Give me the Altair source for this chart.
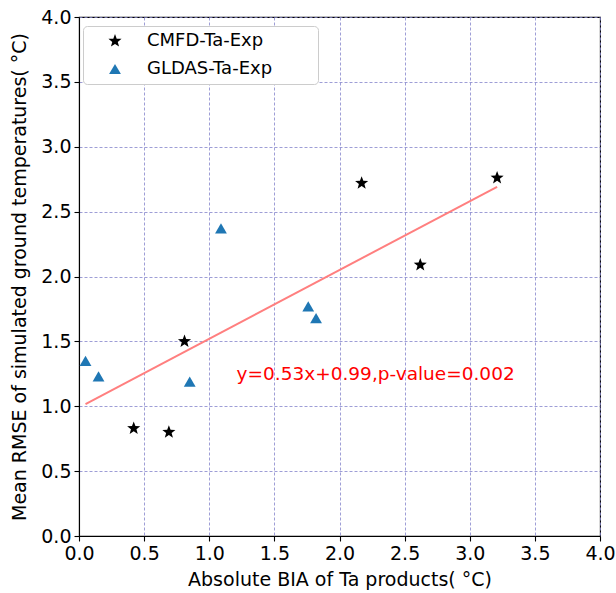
import altair as alt
import numpy as np
import pandas as pd

# Station-mean results for the two forcing experiments
series_names = ["CMFD-Ta-Exp", "GLDAS-Ta-Exp"]
cmfd_bias = [0.42, 0.69, 0.81, 2.17, 2.62, 3.21]
cmfd_rmse = [0.83, 0.80, 1.50, 2.72, 2.09, 2.76]
gldas_bias = [0.05, 0.15, 0.85, 1.09, 1.76, 1.82]
gldas_rmse = [1.35, 1.23, 1.19, 2.37, 1.77, 1.68]

# Linear fit reported on the chart
slope = 0.53
intercept = 0.99
p_value = 0.002

FONT = "DejaVu Sans"
FS = 19

points = pd.DataFrame({
    "bias": cmfd_bias + gldas_bias,
    "rmse": cmfd_rmse + gldas_rmse,
    "series": [series_names[0]] * len(cmfd_bias) + [series_names[1]] * len(gldas_bias),
})

x_lo, x_hi = points["bias"].min(), points["bias"].max()
fit = pd.DataFrame({"bias": [x_lo, x_hi]})
fit["rmse"] = slope * fit["bias"] + intercept

label = pd.DataFrame({
    "bias": [1.21],
    "rmse": [1.25],
    "text": [f"y={slope:.2f}x+{intercept:.2f},p-value={p_value:.3f}"],
})

# five-pointed star symbol in the unit square
ang = -np.pi / 2 + np.arange(10) * np.pi / 5
rad = np.where(np.arange(10) % 2 == 0, 1.0, 0.42)
star_path = "M" + "L".join(f"{r*np.cos(a):.3f},{r*np.sin(a):.3f}" for r, a in zip(rad, ang)) + "Z"

xscale = alt.Scale(domain=[0, 4], nice=False)
yscale = alt.Scale(domain=[0, 4], nice=False)
tick_vals = [i * 0.5 for i in range(9)]

x_axis = alt.Axis(
    title="Absolute BIA of Ta products( °C)", values=tick_vals, format=".1f",
    grid=True, gridDash=[3, 2], gridColor="#8585cc", gridWidth=0.8,
    domainColor="black", tickColor="black", tickSize=5, labelPadding=3,
    titlePadding=7, labelFlush=False,
)
y_axis = alt.Axis(
    title="Mean RMSE of simulated ground temperatures( °C)", values=tick_vals, format=".1f",
    grid=True, gridDash=[3, 2], gridColor="#8585cc", gridWidth=0.8,
    domainColor="black", tickColor="black", tickSize=5, labelPadding=3,
    titlePadding=11, labelFlush=False,
)

# blank title on the right keeps the legend frame wide
legend = alt.Legend(
    title="\u2800", titleOrient="right", titlePadding=27, titleFontSize=18, titleColor="white",
    orient="none", legendX=4, legendY=9,
    strokeColor="#cccccc", fillColor="white", cornerRadius=4,
    padding=6, symbolOffset=17, labelOffset=23, rowPadding=10,
    symbolSize=170, symbolStrokeWidth=0, symbolOpacity=1,
    labelFont=FONT, labelFontSize=18, labelColor="black", labelLimit=400,
)

line = alt.Chart(fit).mark_line(color="#ff7f7f", strokeWidth=2).encode(
    x=alt.X("bias:Q", scale=xscale, axis=x_axis),
    y=alt.Y("rmse:Q", scale=yscale, axis=y_axis),
)

scatter = alt.Chart(points).mark_point(filled=True, opacity=1).encode(
    x=alt.X("bias:Q", scale=xscale),
    y=alt.Y("rmse:Q", scale=yscale),
    shape=alt.Shape(
        "series:N",
        scale=alt.Scale(domain=series_names, range=[star_path, "triangle-up"]),
        legend=legend,
    ),
    color=alt.Color(
        "series:N",
        scale=alt.Scale(domain=series_names, range=["black", "#1f77b4"]),
        legend=legend,
    ),
    size=alt.Size(
        "series:N",
        scale=alt.Scale(domain=series_names, range=[190, 140]),
        legend=None,
    ),
)

note = alt.Chart(label).mark_text(
    align="left", baseline="middle", color="red", font=FONT, fontSize=18.5
).encode(
    x=alt.X("bias:Q", scale=xscale),
    y=alt.Y("rmse:Q", scale=yscale),
    text="text:N",
)

chart = alt.layer(line, scatter, note).properties(
    width=521, height=519,
    autosize=alt.AutoSizeParams(type="none"),
    padding={"left": 79, "top": 17, "right": 16, "bottom": 57},
    background="white",
).configure_view(
    stroke="black", strokeWidth=1.1
).configure_axis(
    labelFont=FONT, labelFontSize=FS, labelColor="black",
    titleFont=FONT, titleFontSize=FS, titleFontWeight="normal", titleColor="black",
    domainWidth=1.1, tickWidth=1.1,
)

chart.save("out.html", embed_options={"renderer": "svg", "actions": False})
